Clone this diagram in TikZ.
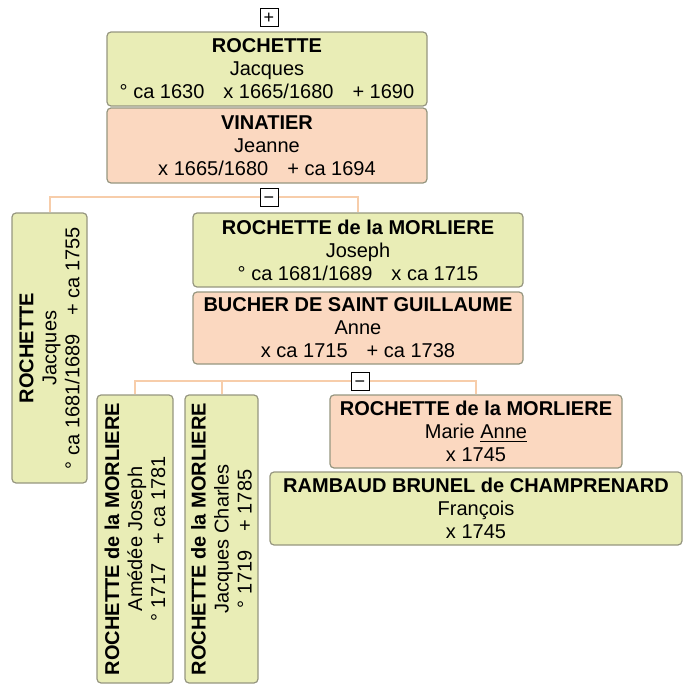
\documentclass[tikz,border=0pt]{standalone}
\usepackage{fontspec}
\setmainfont{Liberation Sans}
\usepackage{tikz}

\definecolor{boxgreen}{RGB}{233,237,182}
\definecolor{boxpeach}{RGB}{251,216,192}
\definecolor{boxedge}{RGB}{150,150,128}
\definecolor{linkpeach}{RGB}{247,205,170}
\newcommand{\dgap}{\hspace{0.95em}}

\begin{document}
\begin{tikzpicture}[x=0.5pt,y=-0.5pt,
  person/.style={draw=boxedge,line width=0.6pt,rounded corners=2pt,align=center,inner sep=0pt,font=\fontsize{10}{11.5}\selectfont},
  male/.style={person,fill=boxgreen},
  female/.style={person,fill=boxpeach},
  toggle/.style={draw=black,fill=white,line width=0.5pt,minimum size=9pt,inner sep=0pt,text height=0.64em,text depth=0pt,font=\fontsize{9}{9}\selectfont},
  link/.style={draw=linkpeach,line width=1pt}]
\useasboundingbox (0,0) rectangle (687,685);
% parents
\node[toggle] (plus) at (269,17) {+};
\node[male,minimum width=160pt,minimum height=37pt] (jacques) at (267,69) {\textbf{ROCHETTE}\\Jacques\\° ca 1630\dgap x 1665/1680\dgap + 1690};
\node[female,minimum width=160pt,minimum height=37.5pt] (jeanne) at (267,145.5) {\textbf{VINATIER}\\Jeanne\\x 1665/1680\dgap + ca 1694};
\node[toggle] (minus1) at (269,197) {−};
% children
\node[male,rotate=90,minimum width=135pt,minimum height=37.5pt] (jacquesjr) at (49.5,348) {\textbf{ROCHETTE}\\Jacques\\° ca 1681/1689\dgap + ca 1755};
\node[male,minimum width=165pt,minimum height=37pt] (joseph) at (358,250) {\textbf{ROCHETTE de la MORLIERE}\\Joseph\\° ca 1681/1689\dgap x ca 1715};
\node[female,minimum width=165pt,minimum height=36pt] (anne) at (358,328) {\textbf{BUCHER DE SAINT GUILLAUME}\\Anne\\x ca 1715\dgap + ca 1738};
\node[toggle] (minus2) at (360,381) {−};
\draw[link] (jacquesjr.east) |- (minus1.west);
\draw[link] (minus1.east) -| (joseph.north);
% grandchildren
\node[male,rotate=90,minimum width=144pt,minimum height=38pt] (amedee) at (135,539) {\textbf{ROCHETTE de la MORLIERE}\\Amédée Joseph\\° 1717\dgap + ca 1781};
\node[male,rotate=90,minimum width=144pt,minimum height=36.5pt] (jcharles) at (221.5,539) {\textbf{ROCHETTE de la MORLIERE}\\Jacques Charles\\° 1719\dgap + 1785};
\node[female,minimum width=146pt,minimum height=36.5pt] (marie) at (476,431.5) {\textbf{ROCHETTE de la MORLIERE}\\Marie \underline{Anne}\\x 1745};
\node[male,minimum width=206pt,minimum height=36.5pt] (francois) at (476,508.5) {\textbf{RAMBAUD BRUNEL de CHAMPRENARD}\\François\\x 1745};
\draw[link] (amedee.east) |- (minus2.west);
\draw[link] (jcharles.east) -- (jcharles.east |- minus2.west);
\draw[link] (minus2.east) -| (marie.north);
\end{tikzpicture}
\end{document}
